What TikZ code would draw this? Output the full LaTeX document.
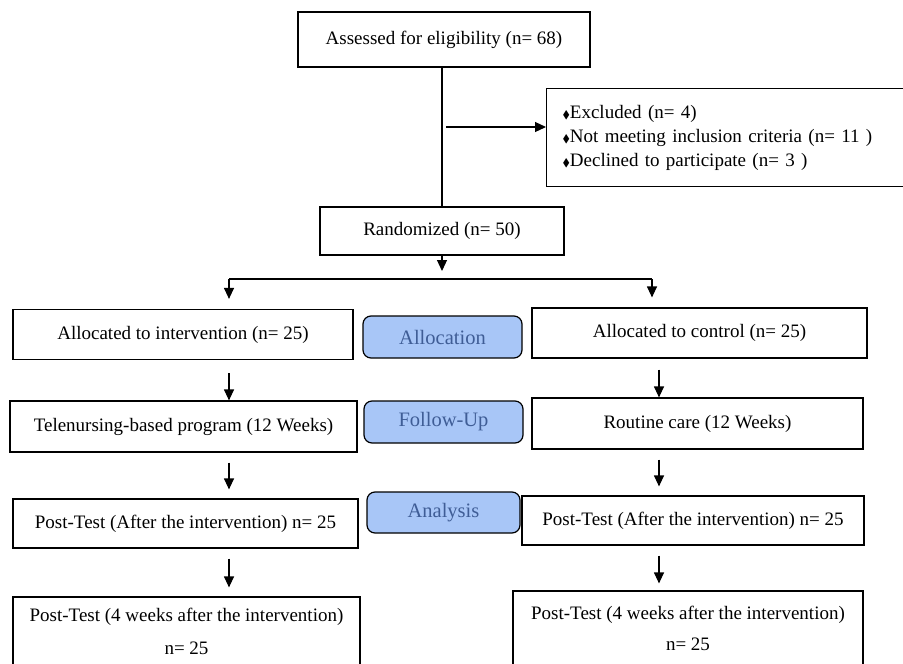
\documentclass[tikz,border=0pt]{standalone}
\usepackage{amssymb}
\usepackage{fontspec}
\setmainfont{Liberation Serif}
\usepackage{tikz}
\usetikzlibrary{arrows.meta}
\definecolor{phasefill}{HTML}{A8C6F7}
\definecolor{phasetext}{HTML}{3F5D96}
\newcommand{\exbullet}{{\fontsize{11}{11}\selectfont$\blacklozenge$}}

\begin{document}
\begin{tikzpicture}[x=1pt, y=-1pt, >={Triangle[length=11pt,width=10pt]}, line width=1.2pt, every node/.style={font=\fontsize{19}{24}\selectfont}]
\tikzstyle{block}=[rectangle, draw, inner sep=0pt, align=center]
\tikzstyle{phase}=[rectangle, draw, rounded corners=8pt, fill=phasefill, text=phasetext, inner sep=0pt, font=\fontsize{20.5}{24}\selectfont]
\tikzstyle{flow}=[->, shorten <=10pt, shorten >=9pt]
\clip (0,0) rectangle (903,664);
% enrolment
\node[block, minimum width=292, minimum height=55] (assess) at (444,39.5) {Assessed for eligibility (n= 68)};
\node[block, anchor=north west, minimum height=98, text width=340, align=left, inner xsep=16pt] (excluded) at (546,88) {\exbullet Excluded (n= 4)\\\exbullet Not meeting inclusion criteria (n= 11 )\\\exbullet Declined to participate (n= 3 )};
\node[block, minimum width=244, minimum height=48] (random) at (442,231) {Randomized (n= 50)};
% allocation
\node[block, minimum width=340, minimum height=50] (allocL) at (183,334.5) {Allocated to intervention (n= 25)};
\node[phase, minimum width=159, minimum height=42] (allocation) at (442.5,337) {Allocation};
\node[block, minimum width=335, minimum height=50] (allocR) at (699.5,333) {Allocated to control (n= 25)};
% follow-up
\node[block, minimum width=347, minimum height=51] (tele) at (183.5,426.5) {Telenursing-based program (12 Weeks)};
\node[phase, minimum width=159, minimum height=42] (followup) at (443.5,422) {Follow-Up};
\node[block, minimum width=331, minimum height=51] (routine) at (697.5,423.5) {Routine care (12 Weeks)};
% analysis
\node[block, minimum width=345, minimum height=49] (postL) at (185.5,523.5) {Post-Test (After the intervention) n= 25};
\node[phase, minimum width=153, minimum height=41] (analysis) at (443.5,512.5) {Analysis};
\node[block, minimum width=342, minimum height=49] (postR) at (693,520.5) {Post-Test (After the intervention) n= 25};
\node[block, minimum width=347, minimum height=69, font=\fontsize{19}{33}\selectfont] (finalL) at (186.5,631.5) {Post-Test (4 weeks after the intervention)\\n= 25};
\node[block, minimum width=350, minimum height=75, font=\fontsize{19}{31}\selectfont] (finalR) at (688,628.5) {Post-Test (4 weeks after the intervention)\\n= 25};
% connectors
\coordinate (exclstart) at (446,127);
\coordinate (randtip) at (442,271);
\coordinate (splitL) at (229,279);
\coordinate (splitR) at (652,279);
\coordinate (colL) at (229,0);
\coordinate (colR) at (659,0);
\draw (assess.south -| random) -- (random.north);
\draw[->] (exclstart) -- (exclstart -| excluded.west);
\draw[->] (random.south) -- (randtip);
\draw (splitL) -- (splitR);
\draw[->, shorten >=10pt] (splitL) -- (splitL |- allocL.north);
\draw[->, shorten >=10pt] (splitR) -- (splitR |- allocR.north);
\draw[flow, shorten <=13pt, shorten >=0pt] (allocL.south -| colL) -- (tele.north -| colL);
\draw[flow, shorten <=11pt, shorten >=0pt] (allocR.south -| colR) -- (routine.north -| colR);
\draw[flow] (tele.south -| colL) -- (postL.north -| colL);
\draw[flow] (routine.south -| colR) -- (postR.north -| colR);
\draw[flow] (postL.south -| colL) -- (finalL.north -| colL);
\draw[flow, shorten >=7pt] (postR.south -| colR) -- (finalR.north -| colR);
\end{tikzpicture}
\end{document}
